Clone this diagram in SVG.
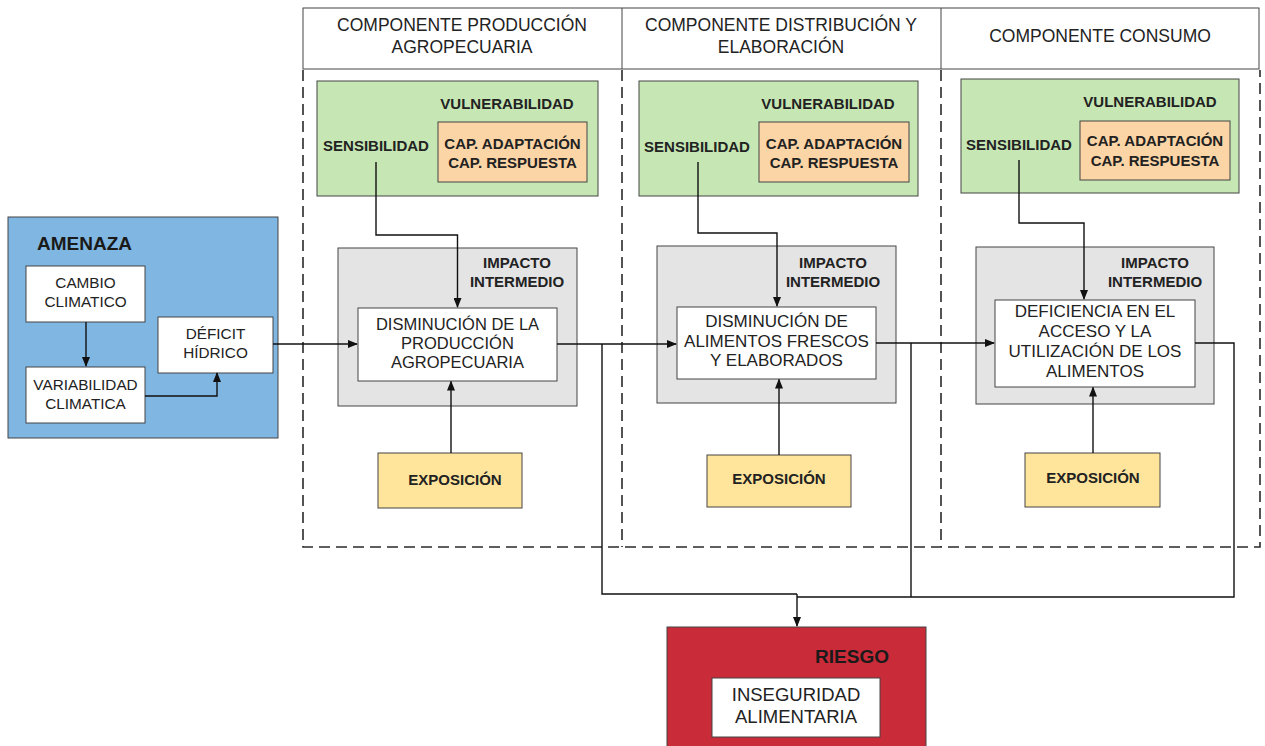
<svg xmlns="http://www.w3.org/2000/svg" width="1265" height="746" viewBox="0 0 1265 746">
<style>
text{font-family:"Liberation Sans",Arial,sans-serif;fill:#222;text-anchor:middle}
.b{font-weight:bold;fill:#1a1a1a}
.hd{font-size:17.5px}
.lb{font-size:15px;font-weight:bold}
.wt{font-size:16.5px}
.am{font-size:15.3px}
.box{stroke:#444;stroke-width:1}
.white{fill:#fff}
.green{fill:#c6e7b4}
.orange{fill:#fcd5a6}
.gray{fill:#e4e4e4}
.yellow{fill:#ffe59c}
.blue{fill:#80b6e2}
.red{fill:#c92b39}
.dash{fill:none;stroke:#2a2a2a;stroke-width:1.6;stroke-dasharray:11 6}
.con{fill:none;stroke:#111;stroke-width:1.4}
.arr{marker-end:url(#ah)}
</style>
<defs>
<marker id="ah" markerUnits="userSpaceOnUse" markerWidth="10" markerHeight="8" refX="9" refY="4" orient="auto">
<path d="M0,0 L10,4 L0,8 Z" fill="#111"/>
</marker>
</defs>
<rect width="1265" height="746" fill="#fff"/>

<g id="components-frame">
<path class="dash" d="M303 70 V547 H1260 V70"/>
<line class="dash" x1="622" y1="70" x2="622" y2="547"/>
<line class="dash" x1="941" y1="70" x2="941" y2="547"/>
</g>

<g id="headers">
<rect class="box white" x="303" y="8" width="956" height="61"/>
<line x1="622" y1="8" x2="622" y2="69" stroke="#444"/>
<line x1="941" y1="8" x2="941" y2="69" stroke="#444"/>
<text class="hd" x="462" y="31">COMPONENTE PRODUCCIÓN</text>
<text class="hd" x="462" y="53">AGROPECUARIA</text>
<text class="hd" x="781" y="31">COMPONENTE DISTRIBUCIÓN Y</text>
<text class="hd" x="781" y="53">ELABORACIÓN</text>
<text class="hd" x="1100" y="42">COMPONENTE CONSUMO</text>
</g>

<g id="amenaza">
<rect class="box blue" x="8" y="217" width="270" height="221"/>
<text class="b" x="37" y="250" style="font-size:19px;text-anchor:start">AMENAZA</text>
</g>
<g id="cambio">
<rect class="box white" x="26" y="266" width="119" height="56"/>
<text class="am" x="85.5" y="288">CAMBIO</text>
<text class="am" x="85.5" y="307">CLIMATICO</text>
</g>
<g id="variabilidad">
<rect class="box white" x="26" y="367" width="119" height="56"/>
<text class="am" x="85.5" y="390">VARIABILIDAD</text>
<text class="am" x="85.5" y="409">CLIMATICA</text>
</g>
<g id="deficit">
<rect class="box white" x="158" y="317" width="115" height="56"/>
<text class="am" x="215.5" y="339">DÉFICIT</text>
<text class="am" x="215.5" y="358">HÍDRICO</text>
</g>

<!-- Column 1 -->
<g id="vuln1">
<rect class="box green" x="317" y="81" width="281" height="115"/>
<text class="lb" x="507" y="109">VULNERABILIDAD</text>
<text class="lb" x="376" y="151">SENSIBILIDAD</text>
</g>
<g id="cap1">
<rect class="box orange" x="438" y="122" width="149" height="60"/>
<text class="lb" x="512.5" y="149">CAP. ADAPTACIÓN</text>
<text class="lb" x="512.5" y="168">CAP. RESPUESTA</text>
</g>
<g id="impacto1">
<rect class="box gray" x="338" y="248" width="239" height="158"/>
<text class="lb" x="517" y="268">IMPACTO</text>
<text class="lb" x="517" y="287">INTERMEDIO</text>
</g>
<g id="disminucion1">
<rect class="box white" x="358" y="308" width="199" height="73"/>
<text class="wt" x="457.5" y="330">DISMINUCIÓN DE LA</text>
<text class="wt" x="457.5" y="349">PRODUCCIÓN</text>
<text class="wt" x="457.5" y="368">AGROPECUARIA</text>
</g>
<g id="exposicion1">
<rect class="box yellow" x="378" y="453" width="144" height="55"/>
<text class="lb" x="455" y="485">EXPOSICIÓN</text>
</g>

<!-- Column 2 -->
<g id="vuln2">
<rect class="box green" x="639" y="81" width="279" height="115"/>
<text class="lb" x="828" y="109">VULNERABILIDAD</text>
<text class="lb" x="697" y="152">SENSIBILIDAD</text>
</g>
<g id="cap2">
<rect class="box orange" x="759" y="122" width="150" height="60"/>
<text class="lb" x="834" y="149">CAP. ADAPTACIÓN</text>
<text class="lb" x="834" y="168">CAP. RESPUESTA</text>
</g>
<g id="impacto2">
<rect class="box gray" x="657" y="246" width="239" height="157"/>
<text class="lb" x="833" y="268">IMPACTO</text>
<text class="lb" x="833" y="287">INTERMEDIO</text>
</g>
<g id="disminucion2">
<rect class="box white" x="677" y="307" width="199" height="72"/>
<text class="wt" x="776.5" y="327" style="font-size:17px">DISMINUCIÓN DE</text>
<text class="wt" x="776.5" y="347" style="font-size:17px">ALIMENTOS FRESCOS</text>
<text class="wt" x="776.5" y="366" style="font-size:17px">Y ELABORADOS</text>
</g>
<g id="exposicion2">
<rect class="box yellow" x="707" y="455" width="144" height="52"/>
<text class="lb" x="779" y="484">EXPOSICIÓN</text>
</g>

<!-- Column 3 -->
<g id="vuln3">
<rect class="box green" x="961" y="79" width="278" height="114"/>
<text class="lb" x="1150" y="107">VULNERABILIDAD</text>
<text class="lb" x="1019" y="150">SENSIBILIDAD</text>
</g>
<g id="cap3">
<rect class="box orange" x="1080" y="121" width="150" height="59"/>
<text class="lb" x="1155" y="146">CAP. ADAPTACIÓN</text>
<text class="lb" x="1155" y="166">CAP. RESPUESTA</text>
</g>
<g id="impacto3">
<rect class="box gray" x="976" y="247" width="238" height="157"/>
<text class="lb" x="1155" y="268">IMPACTO</text>
<text class="lb" x="1155" y="287">INTERMEDIO</text>
</g>
<g id="deficiencia3">
<rect class="box white" x="995" y="300" width="200" height="87"/>
<text class="wt" x="1095" y="317" style="font-size:17px">DEFICIENCIA EN EL</text>
<text class="wt" x="1095" y="337" style="font-size:17px">ACCESO Y LA</text>
<text class="wt" x="1095" y="357" style="font-size:17px">UTILIZACIÓN DE LOS</text>
<text class="wt" x="1095" y="377" style="font-size:17px">ALIMENTOS</text>
</g>
<g id="exposicion3">
<rect class="box yellow" x="1025" y="453" width="135" height="54"/>
<text class="lb" x="1093" y="483">EXPOSICIÓN</text>
</g>

<!-- Riesgo -->
<g id="riesgo">
<rect class="box red" x="667" y="627" width="259" height="125"/>
<text class="b" x="889" y="663" style="font-size:19px;text-anchor:end">RIESGO</text>
</g>
<g id="inseguridad">
<rect class="box white" x="712" y="678" width="168" height="59"/>
<text x="796" y="701" style="font-size:18.5px">INSEGURIDAD</text>
<text x="796" y="723" style="font-size:18.5px">ALIMENTARIA</text>
</g>

<g id="connectors">
<path class="con arr" d="M86 322 V366"/>
<path class="con arr" d="M145 396 H217 V373"/>
<path class="con arr" d="M273 344 H357"/>
<path class="con arr" d="M376 162 V235 H457.5 V307"/>
<path class="con arr" d="M451 453 V381.5"/>
<path class="con arr" d="M557 344 H676"/>
<path class="con arr" d="M698 162 V233 H777 V306"/>
<path class="con arr" d="M779 455 V379.5"/>
<path class="con arr" d="M876 343 H994"/>
<path class="con arr" d="M1019 160 V223 H1084 V299"/>
<path class="con arr" d="M1093 453 V387.5"/>
<path class="con" d="M602 344 V594 H797"/>
<path class="con" d="M911 343 V597"/>
<path class="con" d="M1195 343 H1234 V597 H797"/>
<path class="con arr" d="M797 594 V626"/>
</g>
</svg>
